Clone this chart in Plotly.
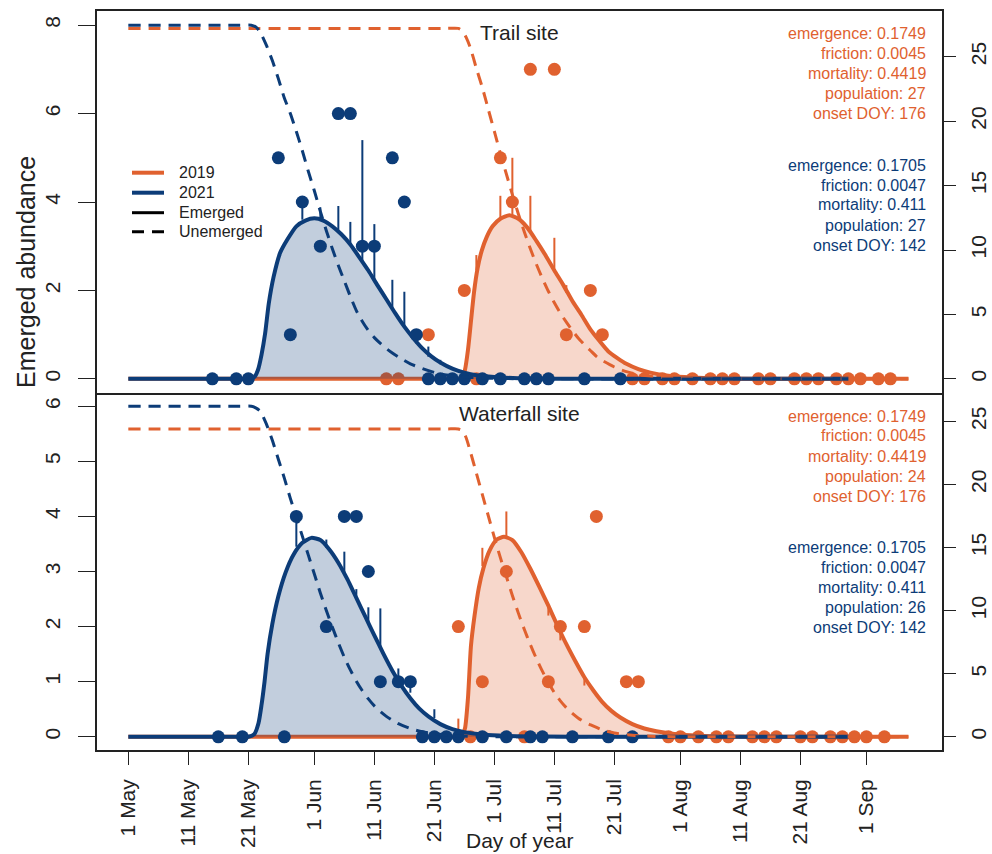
import plotly.graph_objects as go

# ---------------- colours ----------------
C19 = "#E0612F"
C21 = "#0C3C78"
F19 = "rgba(224,97,47,0.25)"
F21 = "rgba(12,60,120,0.25)"
INK = "#222222"
FONT = "Liberation Sans"

# ---------------- x axis (day of year) ----------------
tick_doy = [121, 131, 141, 152, 162, 172, 182, 192, 202, 213, 223, 233, 244]
tick_lab = ["1 May", "11 May", "21 May", "1 Jun", "11 Jun", "21 Jun", "1 Jul",
            "11 Jul", "21 Jul", "1 Aug", "11 Aug", "21 Aug", "1 Sep"]

# ======================= Trail site =======================
# observed emerged counts
trail_obs19_doy = [164, 166, 171, 177, 179, 183, 185, 188, 192, 194, 198, 200, 205, 207, 210,
                   212, 215, 218, 220, 222, 226, 228, 232, 234, 236, 239, 241, 243, 246, 248]
trail_obs19 = [0, 0, 1, 2, 0, 5, 4, 7, 7, 1, 2, 1, 0, 0, 0,
               0, 0, 0, 0, 0, 0, 0, 0, 0, 0, 0, 0, 0, 0, 0]
trail_obs21_doy = [135, 139, 141, 146, 148, 150, 153, 156, 158, 160, 162, 165, 167, 169, 171,
                   173, 175, 177, 180, 183, 187, 189, 191, 197, 203]
trail_obs21 = [0, 0, 0, 5, 1, 4, 3, 6, 6, 3, 3, 5, 4, 1, 0,
               0, 0, 0, 0, 0, 0, 0, 0, 0, 0]

# fitted emerged abundance (left axis)
trail_em19_doy = [121, 174, 176, 176.6, 177.1, 177.6, 178.1, 178.6, 179.2, 179.9, 180.7, 181.7, 183,
                  184.5, 186, 187.5, 189, 190.5, 192, 193.5, 195, 196.5, 198, 199.5, 201, 202.5,
                  204, 206, 208, 211, 215, 220, 228, 251]
trail_em19 = [0, 0, 0, 0.03, 0.2, 0.65, 1.3, 1.95, 2.5, 2.9, 3.2, 3.45, 3.62,
              3.7, 3.62, 3.42, 3.12, 2.8, 2.45, 2.12, 1.76, 1.45, 1.12, 0.86, 0.62, 0.47,
              0.34, 0.22, 0.14, 0.07, 0.03, 0.01, 0, 0]
trail_em21_doy = [121, 139, 141, 142, 142.6, 143.2, 143.8, 144.4, 145.2, 146.3, 147.5, 149, 150.5,
                  152, 153.5, 155, 156.5, 158, 159.5, 161, 162.5, 164, 165.5, 167, 168.5, 170,
                  171.5, 173, 175, 177, 179, 182, 186, 192, 200, 241]
trail_em21 = [0, 0, 0, 0.04, 0.2, 0.55, 1.03, 1.7, 2.3, 2.85, 3.15, 3.45, 3.58,
              3.63, 3.58, 3.45, 3.27, 3.04, 2.75, 2.45, 2.12, 1.8, 1.48, 1.18, 0.92, 0.69,
              0.51, 0.37, 0.23, 0.14, 0.08, 0.04, 0.015, 0.005, 0, 0]

# fitted unemerged abundance (right axis)
trail_un19_doy = [121, 174, 176, 176.7, 177.3, 178, 179, 180, 181, 182, 183, 184, 185, 186, 187,
                  188, 189, 190, 191, 192, 193, 194, 195, 196, 197, 198, 199, 200, 202, 204,
                  206, 209, 213, 218, 225, 251]
trail_un19 = [27.2, 27.2, 27.2, 27.0, 26.5, 25.7, 24.1, 22.6, 20.9, 19.2, 17.5, 15.9, 14.3, 12.8, 11.4,
              10.1, 8.9, 7.8, 6.8, 5.9, 5.1, 4.4, 3.75, 3.15, 2.65, 2.2, 1.75, 1.42, 0.92, 0.56,
              0.33, 0.14, 0.04, 0.01, 0, 0]
trail_un21_doy = [121, 139.5, 141.5, 142.3, 143, 144, 145, 146, 147, 148, 149, 150, 151, 152, 153,
                  154, 155, 156, 157, 158, 159, 160, 161, 162, 163, 164, 165, 166, 168, 170,
                  172, 174, 177, 181, 186, 192, 241]
trail_un21 = [27.45, 27.45, 27.45, 27.3, 26.9, 25.9, 24.7, 23.3, 21.8, 20.6, 19.2, 17.7, 16.1, 14.6, 13.0,
              11.5, 10.1, 8.8, 7.6, 6.4, 5.3, 4.45, 3.75, 3.2, 2.75, 2.35, 2.0, 1.7, 1.17, 0.8,
              0.5, 0.3, 0.15, 0.05, 0.01, 0, 0]

# interval spikes above the fitted curve
trail_bar19_doy = [179, 183, 185, 188, 192, 194]
trail_bar19_lo = [2.46, 3.6, 3.69, 3.3, 2.5, 1.94]
trail_bar19_hi = [2.8, 4.14, 5.0, 4.14, 3.19, 2.12]
trail_bar21_doy = [150, 153, 156, 158, 160, 162, 165, 167, 169, 171, 173]
trail_bar21_lo = [3.6, 3.6, 3.37, 3.05, 2.62, 2.24, 1.6, 1.2, 0.8, 0.5, 0.33]
trail_bar21_hi = [4.0, 3.88, 3.91, 3.55, 5.4, 3.5, 2.24, 1.97, 1.04, 0.73, 0.43]

trail_par19 = ["emergence: 0.1749", "friction: 0.0045", "mortality: 0.4419",
               "population: 27", "onset DOY: 176"]
trail_par21 = ["emergence: 0.1705", "friction: 0.0047", "mortality: 0.411",
               "population: 27", "onset DOY: 142"]

# ======================= Waterfall site =======================
fall_obs19_doy = [176, 178, 180, 184, 187, 191, 193, 197, 199, 204, 206, 211, 213, 216, 219,
                  221, 225, 227, 229, 233, 235, 238, 240, 242, 244, 247]
fall_obs19 = [2, 0, 1, 3, 0, 1, 2, 2, 4, 1, 1, 0, 0, 0, 0,
              0, 0, 0, 0, 0, 0, 0, 0, 0, 0, 0]
fall_obs21_doy = [136, 140, 147, 149, 154, 157, 159, 161, 163, 166, 168, 170, 172, 174, 176,
                  180, 184, 188, 190, 195, 201, 205]
fall_obs21 = [0, 0, 0, 4, 2, 4, 4, 3, 1, 1, 1, 0, 0, 0, 0,
              0, 0, 0, 0, 0, 0, 0]

fall_em19_doy = [121, 174, 176, 176.6, 177.1, 177.6, 178.1, 178.7, 179.4, 180.2, 181.2, 182.4, 183.6,
                 185, 186.5, 188, 189.5, 191, 192.5, 194, 195.5, 197, 198.5, 200, 201.5, 203,
                 205, 207, 209, 212, 216, 222, 230, 251]
fall_em19 = [0, 0, 0, 0.03, 0.15, 0.7, 1.65, 2.2, 2.7, 3.07, 3.38, 3.58, 3.63,
             3.57, 3.35, 3.05, 2.72, 2.38, 2.02, 1.68, 1.37, 1.08, 0.84, 0.63, 0.47, 0.35,
             0.23, 0.15, 0.1, 0.05, 0.02, 0.005, 0, 0]
fall_em21_doy = [121, 139, 141, 142, 142.7, 143.2, 143.7, 144.2, 145, 146, 147.2, 148.5, 150,
                 151.5, 153, 154.5, 156, 157.5, 159, 160.5, 162, 163.5, 165, 166.5, 168, 169.5,
                 171, 173, 175, 177, 180, 184, 190, 200, 241]
fall_em21 = [0, 0, 0, 0.05, 0.25, 0.58, 1.0, 1.5, 2.05, 2.55, 2.98, 3.3, 3.52,
             3.61, 3.57, 3.4, 3.16, 2.86, 2.52, 2.18, 1.84, 1.51, 1.2, 0.93, 0.7, 0.51,
             0.37, 0.23, 0.14, 0.085, 0.04, 0.015, 0.005, 0, 0]

fall_un19_doy = [121, 174, 176, 176.7, 177.3, 178, 179, 180, 181, 182, 183, 184, 185, 186, 187,
                 188, 189, 190, 191, 192, 193, 194, 195, 196, 197, 198, 200, 202, 205, 209,
                 214, 251]
fall_un19 = [24.4, 24.4, 24.4, 24.25, 23.7, 22.6, 20.9, 19.2, 17.5, 15.8, 14.2, 12.7, 11.2, 9.8, 8.5,
             7.3, 6.2, 5.2, 4.3, 3.5, 2.85, 2.3, 1.85, 1.47, 1.17, 0.95, 0.55, 0.3, 0.12, 0.03,
             0, 0]
fall_un21_doy = [121, 139.5, 141.5, 142.3, 143, 144, 145, 146, 147, 148, 149, 150, 151, 152, 153,
                 154, 155, 156, 157, 158, 159, 160, 161, 162, 163, 164, 165, 166, 168, 170,
                 172, 175, 180, 186, 241]
fall_un21 = [26.2, 26.2, 26.2, 26.05, 25.8, 24.8, 23.5, 22.0, 20.5, 18.9, 17.4, 15.9, 14.4, 12.9, 11.4,
             10.0, 8.7, 7.45, 6.3, 5.3, 4.4, 3.65, 3.0, 2.45, 2.0, 1.62, 1.3, 1.04, 0.65, 0.4,
             0.24, 0.1, 0.02, 0, 0]

fall_bar19_doy = [176, 180, 184, 191, 193, 197]
fall_bar19_lo = [0.08, 3.1, 3.62, 2.2, 1.75, 0.93]
fall_bar19_hi = [0.33, 3.43, 4.09, 2.38, 1.88, 1.05]
fall_bar21_doy = [149, 154, 157, 159, 161, 163, 166, 168, 172]
fall_bar21_lo = [3.45, 3.43, 2.94, 2.49, 2.06, 1.65, 1.0, 0.8, 0.34]
fall_bar21_hi = [4.0, 3.58, 3.36, 2.68, 2.35, 2.33, 1.24, 1.0, 0.5]

fall_par19 = ["emergence: 0.1749", "friction: 0.0045", "mortality: 0.4419",
              "population: 24", "onset DOY: 176"]
fall_par21 = ["emergence: 0.1705", "friction: 0.0047", "mortality: 0.411",
              "population: 26", "onset DOY: 142"]

# ---------------- page geometry (pixels) ----------------
WIDTH, HEIGHT = 992, 854
L, R, T, B = 97, 942, 11, 750
SPLIT = 393            # shared border between the two panels
W, H = R - L, B - T


def px(x):
    return (x - L) / W


def py(y):
    return (B - y) / H


fig = go.Figure()


def spikes(doy, lo, hi):
    xs, ys = [], []
    for d, a, b in zip(doy, lo, hi):
        xs += [d, d, None]
        ys += [a, b, None]
    return xs, ys


def add_panel(xa, ya_l, ya_r, em19, em21, un19, un21, obs19, obs21, bar19, bar21):
    # 2019 first, 2021 drawn on top
    for (em, un, obs, bar, col, fill) in [(em19, un19, obs19, bar19, C19, F19),
                                         (em21, un21, obs21, bar21, C21, F21)]:
        fig.add_trace(go.Scatter(x=em[0], y=em[1], xaxis=xa, yaxis=ya_l, mode="lines",
                                 line=dict(color=col, width=4, shape="spline", smoothing=0.6),
                                 fill="tozeroy", fillcolor=fill, hoverinfo="skip",
                                 showlegend=False))
        bx, by = spikes(*bar)
        fig.add_trace(go.Scatter(x=bx, y=by, xaxis=xa, yaxis=ya_l, mode="lines",
                                 line=dict(color=col, width=2), hoverinfo="skip",
                                 showlegend=False))
        fig.add_trace(go.Scatter(x=obs[0], y=obs[1], xaxis=xa, yaxis=ya_l, mode="markers",
                                 marker=dict(color=col, size=13, line=dict(width=0)),
                                 showlegend=False))
        fig.add_trace(go.Scatter(x=un[0], y=un[1], xaxis=xa, yaxis=ya_r, mode="lines",
                                 line=dict(color=col, width=3, dash="12px,8px",
                                           shape="spline", smoothing=0.6),
                                 hoverinfo="skip", showlegend=False))


# top panel: Trail site
add_panel("x2", "y3", "y4",
          (trail_em19_doy, trail_em19), (trail_em21_doy, trail_em21),
          (trail_un19_doy, trail_un19), (trail_un21_doy, trail_un21),
          (trail_obs19_doy, trail_obs19), (trail_obs21_doy, trail_obs21),
          (trail_bar19_doy, trail_bar19_lo, trail_bar19_hi),
          (trail_bar21_doy, trail_bar21_lo, trail_bar21_hi))
# bottom panel: Waterfall site
add_panel("x", "y", "y2",
          (fall_em19_doy, fall_em19), (fall_em21_doy, fall_em21),
          (fall_un19_doy, fall_un19), (fall_un21_doy, fall_un21),
          (fall_obs19_doy, fall_obs19), (fall_obs21_doy, fall_obs21),
          (fall_bar19_doy, fall_bar19_lo, fall_bar19_hi),
          (fall_bar21_doy, fall_bar21_lo, fall_bar21_hi))

split_frac = py(SPLIT)
xrange_ = [115.78, 256.6]
tickfont = dict(family=FONT, size=21, color=INK)
base = dict(showgrid=False, zeroline=False, automargin=False)
line = dict(showline=True, linecolor=INK, linewidth=1.6)

fig.update_layout(
    width=WIDTH, height=HEIGHT,
    margin=dict(l=L, r=WIDTH - R, t=T, b=HEIGHT - B, autoexpand=False),
    paper_bgcolor="white", plot_bgcolor="rgba(0,0,0,0)",
    showlegend=False,
    xaxis=dict(domain=[0, 1], anchor="y", range=xrange_, tickmode="array",
               tickvals=tick_doy, ticktext=tick_lab, tickangle=-90, ticks="outside",
               ticklen=13, tickwidth=1.4, tickcolor=INK, tickfont=tickfont,
               ticklabelstandoff=6, mirror=False, **line, **base),
    xaxis2=dict(domain=[0, 1], anchor="y3", range=xrange_, showticklabels=False,
                ticks="", matches="x", mirror=True, **line, **base),
    yaxis=dict(domain=[0, split_frac], anchor="x", range=[-0.24, 6.24], tickmode="array",
               tickvals=[0, 1, 2, 3, 4, 5, 6], tickangle=-90, ticks="outside", ticklen=17,
               tickwidth=1.4, tickcolor=INK, tickfont=tickfont, ticklabelstandoff=10,
               mirror=True, **line, **base),
    yaxis2=dict(overlaying="y", side="right", anchor="x", range=[-1.048, 27.248],
                tickmode="array", tickvals=[0, 5, 10, 15, 20, 25], tickangle=-90,
                ticks="outside", ticklen=13, tickwidth=1.4, tickcolor=INK, tickfont=tickfont,
                ticklabelstandoff=5, showline=False, **base),
    yaxis3=dict(domain=[split_frac, 1], anchor="x2", range=[-0.32, 8.32], tickmode="array",
                tickvals=[0, 2, 4, 6, 8], tickangle=-90, ticks="outside", ticklen=17,
                tickwidth=1.4, tickcolor=INK, tickfont=tickfont, ticklabelstandoff=10,
                mirror=True, **line, **base),
    yaxis4=dict(overlaying="y3", side="right", anchor="x2", range=[-1.098, 28.55],
                tickmode="array", tickvals=[0, 5, 10, 15, 20, 25], tickangle=-90,
                ticks="outside", ticklen=13, tickwidth=1.4, tickcolor=INK, tickfont=tickfont,
                ticklabelstandoff=5, showline=False, **base),
)

ann = []


def text(x, y, s, size, color=INK, xanchor="center", angle=0):
    ann.append(dict(x=px(x), y=py(y), xref="paper", yref="paper", text=s, showarrow=False,
                    xanchor=xanchor, yanchor="middle", textangle=angle,
                    font=dict(family=FONT, size=size, color=color)))


# panel titles
text(519, 32, "Trail site", 21)
text(519, 414, "Waterfall site", 21)

# parameter blocks
for lines, col, y0 in [(trail_par19, C19, 33.3), (trail_par21, C21, 165),
                       (fall_par19, C19, 416), (fall_par21, C21, 547.3)]:
    for i, s in enumerate(lines):
        text(928, y0 + 20 * i, s, 16, color=col, xanchor="right")

# axis titles
text(519, 840, "Day of year", 21)
text(26, 272, "Emerged abundance", 25, angle=-90)

# legend
leg = [("2019", C19, 4, "solid", 172.7), ("2021", C21, 4, "solid", 192.7),
       ("Emerged", "black", 3, "solid", 212.7), ("Unemerged", "black", 3, "12px,8px", 231.7)]
shapes = []
for lab, col, w, dash, y in leg:
    shapes.append(dict(type="line", xref="paper", yref="paper", x0=px(132), x1=px(164),
                       y0=py(y), y1=py(y), line=dict(color=col, width=w, dash=dash)))
    text(177, y, lab, 16, xanchor="left")

fig.update_layout(annotations=ann, shapes=shapes)
fig.write_html("out.html")
